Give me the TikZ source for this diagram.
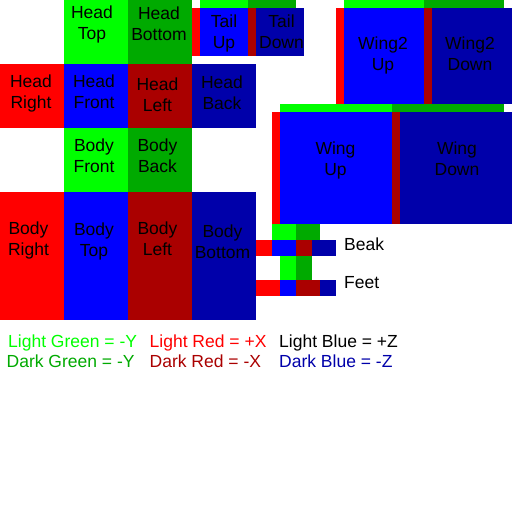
\documentclass[tikz,border=0pt]{standalone}
\usepackage{fontspec}
\setmainfont{Liberation Sans}
\definecolor{lg}{HTML}{00FF00}
\definecolor{dg}{HTML}{00AA00}
\definecolor{lr}{HTML}{FF0000}
\definecolor{dr}{HTML}{AA0000}
\definecolor{lb}{HTML}{0000FF}
\definecolor{db}{HTML}{0000AA}
\newcommand{\twol}[2]{\begin{tabular}[t]{@{}c@{}}#1\\#2\end{tabular}}
\tikzset{
  lbl/.style={anchor=base, inner sep=0pt, font=\fontsize{17.5}{21}\selectfont, text=black},
  leg/.style={anchor=base west, inner sep=0pt, font=\fontsize{17.5}{21}\selectfont},
}
\begin{document}
\begin{tikzpicture}[x=1pt,y=-1pt]
\useasboundingbox[fill=white] (0,0) rectangle (512,512);
% Head
\fill[lg] (64,0) rectangle (128,64);
\fill[dg] (128,0) rectangle (192,64);
\fill[lr] (0,64) rectangle (64,128);
\fill[lb] (64,64) rectangle (128,128);
\fill[dr] (128,64) rectangle (192,128);
\fill[db] (192,64) rectangle (256,128);
% Body
\fill[lg] (64,128) rectangle (128,192);
\fill[dg] (128,128) rectangle (192,192);
\fill[lr] (0,192) rectangle (64,320);
\fill[lb] (64,192) rectangle (128,320);
\fill[dr] (128,192) rectangle (192,320);
\fill[db] (192,192) rectangle (256,320);
% Tail
\fill[lg] (200,0) rectangle (248,8);
\fill[dg] (248,0) rectangle (296,8);
\fill[lr] (192,8) rectangle (200,56);
\fill[lb] (200,8) rectangle (248,56);
\fill[dr] (248,8) rectangle (256,56);
\fill[db] (256,8) rectangle (304,56);
% Wing2
\fill[lg] (344,0) rectangle (424,8);
\fill[dg] (424,0) rectangle (504,8);
\fill[lr] (336,8) rectangle (344,104);
\fill[lb] (344,8) rectangle (424,104);
\fill[dr] (424,8) rectangle (432,104);
\fill[db] (432,8) rectangle (512,104);
% Wing
\fill[lg] (280,104) rectangle (392,112);
\fill[dg] (392,104) rectangle (504,112);
\fill[lr] (272,112) rectangle (280,224);
\fill[lb] (280,112) rectangle (392,224);
\fill[dr] (392,112) rectangle (400,224);
\fill[db] (400,112) rectangle (512,224);
% Beak
\fill[lg] (272,224) rectangle (296,240);
\fill[dg] (296,224) rectangle (320,240);
\fill[lr] (256,240) rectangle (272,256);
\fill[lb] (272,240) rectangle (296,256);
\fill[dr] (296,240) rectangle (312,256);
\fill[db] (312,240) rectangle (336,256);
% Feet
\fill[lg] (280,256) rectangle (296,280);
\fill[dg] (296,256) rectangle (312,280);
\fill[lr] (256,280) rectangle (280,296);
\fill[lb] (280,280) rectangle (296,296);
\fill[dr] (296,280) rectangle (320,296);
\fill[db] (320,280) rectangle (336,296);
% Labels
\node[lbl] (headtop) at (92,18.5) {\twol{Head}{Top}};
\node[lbl] (headbottom) at (159,19.5) {\twol{Head}{Bottom}};
\node[lbl] (headright) at (31,87.5) {\twol{Head}{Right}};
\node[lbl] (headfront) at (94,87.5) {\twol{Head}{Front}};
\node[lbl] (headleft) at (157.5,90.5) {\twol{Head}{Left}};
\node[lbl] (headback) at (222,88.5) {\twol{Head}{Back}};
\node[lbl] (bodyfront) at (94,151) {\twol{Body}{Front}};
\node[lbl] (bodyback) at (157.5,151) {\twol{Body}{Back}};
\node[lbl] (bodyright) at (28.5,234.5) {\twol{Body}{Right}};
\node[lbl] (bodytop) at (94,235) {\twol{Body}{Top}};
\node[lbl] (bodyleft) at (157.5,234.5) {\twol{Body}{Left}};
\node[lbl] (bodybottom) at (222.5,237) {\twol{Body}{Bottom}};
\node[lbl] (tailup) at (224,27) {\twol{Tail}{Up}};
\node[lbl] (taildown) at (281.5,27) {\twol{Tail}{Down}};
\node[lbl] (wing2up) at (383,49) {\twol{Wing2}{Up}};
\node[lbl] (wing2down) at (470,49) {\twol{Wing2}{Down}};
\node[lbl] (wingup) at (335.5,154) {\twol{Wing}{Up}};
\node[lbl] (wingdown) at (457,154) {\twol{Wing}{Down}};
\node[leg] (beak) at (344,250) {Beak};
\node[leg] (feet) at (344,288) {Feet};
% Legend
\node[leg, text=lg] (l1) at (8,347) {Light Green = -Y};
\node[leg, text=dg] (l2) at (6.5,367) {Dark Green = -Y};
\node[leg, text=lr] (l3) at (149.5,347) {Light Red = +X};
\node[leg, text=dr] (l4) at (149.5,367) {Dark Red = -X};
\node[leg, text=black] (l5) at (279,347) {Light Blue = +Z};
\node[leg, text=db] (l6) at (279,367) {Dark Blue = -Z};
\end{tikzpicture}
\end{document}
